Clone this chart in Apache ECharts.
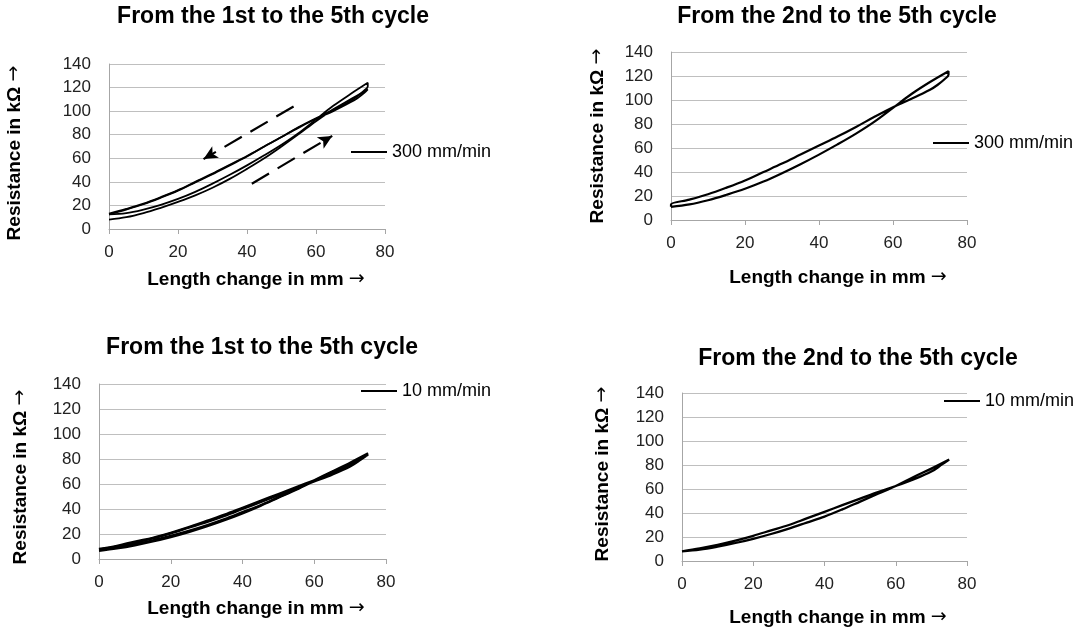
<!DOCTYPE html>
<html>
<head>
<meta charset="utf-8">
<script src="https://cdn.jsdelivr.net/npm/echarts@6/dist/echarts.min.js"></script>
<style>
  html, body { margin: 0; padding: 0; background: #fff; }
  #panel { width: 1084px; height: 630px; }
</style>
</head>
<body>
<div id="panel"></div>
<script>
  const titles = ['From the 1st to the 5th cycle', 'From the 2nd to the 5th cycle', 'From the 1st to the 5th cycle', 'From the 2nd to the 5th cycle'];
  const speeds = ['300 mm/min', '300 mm/min', '10 mm/min', '10 mm/min'];
  const xName = 'Length change in mm';
  const yName = 'Resistance in kΩ';
  const xTicks = [0, 20, 40, 60, 80];
  const yTicks = [0, 20, 40, 60, 80, 100, 120, 140];

  // [length change mm, resistance kΩ] – loading branch, then unloading branch
  const fastCycle1 = [[0, 8], [5, 10], [10, 13.5], [15, 18], [20, 23], [25, 28.5], [30, 35], [35, 42.5], [40, 51], [45, 60], [50, 70], [55, 80.5], [60, 91.5], [65, 101.5], [70, 110], [75, 118.5],
    [74, 115.5], [72, 111], [70, 107.5], [65, 100], [60, 93.5], [55, 86], [50, 78], [45, 70], [40, 61.5], [35, 54], [30, 46.5], [25, 39.5], [20, 32.5], [15, 26.5], [10, 21], [5, 16.5], [0, 12.5]];
  const fastCycles15 = [[0, 12.5], [5, 13.5], [10, 16.5], [15, 20.5], [20, 25.5], [25, 31.5], [30, 38.5], [35, 46], [40, 54], [45, 62.5], [50, 71.5], [55, 81.5], [60, 93], [65, 104.5], [70, 114.5], [75, 124],
    [75, 121], [74, 117.5], [72, 112.5], [70, 108.5], [67, 104], [65, 101], [60, 94], [55, 86.5], [50, 78], [45, 70], [40, 62], [35, 54.5], [30, 47], [25, 40], [20, 33], [15, 27], [10, 21.5], [5, 17], [0, 13]];
  const fastCycles25 = [[0, 11], [5, 13], [10, 16.5], [15, 21], [20, 26], [25, 32], [30, 39], [35, 46.5], [40, 54.5], [45, 63], [50, 72], [55, 82], [60, 93.5], [65, 105], [70, 115], [75, 124],
    [75, 121], [74, 117.5], [72, 112.5], [70, 108.5], [67, 104], [65, 101], [60, 94], [55, 86], [50, 77.5], [45, 69.5], [40, 62], [35, 54.5], [30, 47], [25, 40], [20, 33], [15, 27], [10, 21.5], [5, 17], [0, 13], [0, 11]];
  const slowCycle1 = [[0, 6.5], [5, 8.5], [10, 11], [15, 14], [20, 17.5], [25, 21.5], [30, 26], [35, 31], [40, 36.5], [45, 42.5], [50, 49], [55, 55.5], [60, 62.5], [65, 69.5], [70, 76], [75, 83.5],
    [73, 79.5], [70, 74], [65, 67.5], [60, 62], [55, 56.5], [50, 51], [45, 45.5], [40, 40], [35, 34.5], [30, 29.5], [25, 25], [20, 20.5], [15, 16.5], [10, 13], [5, 10], [0, 7.5]];
  const slowCycles15 = [[0, 7.5], [5, 9.5], [10, 12], [15, 15], [20, 18.5], [25, 22.5], [30, 27], [35, 32], [40, 37.5], [45, 43], [50, 49.5], [55, 56], [60, 63], [65, 70], [70, 77], [75, 84.5],
    [73, 80.5], [70, 75], [65, 68.5], [60, 63], [55, 57.5], [50, 52], [45, 46.5], [40, 41], [35, 35.5], [30, 30.5], [25, 25.5], [20, 21], [15, 17], [10, 14], [5, 10.5], [0, 8]];
  const slowCycles25 = [[0, 8], [5, 9.5], [10, 12], [15, 15], [20, 18.5], [25, 22.5], [30, 27], [35, 32], [40, 37], [45, 43], [50, 49.5], [55, 56], [60, 62.5], [65, 70], [70, 77], [75, 84.5],
    [73, 80.5], [70, 74.5], [65, 68], [60, 62.5], [55, 57.5], [50, 52], [45, 46.5], [40, 41], [35, 35.5], [30, 30], [25, 25.5], [20, 21], [15, 17], [10, 13.5], [5, 10.5], [0, 8]];

  // direction arrows drawn on the first panel
  const arrowUnload = [[53.5, 104], [27.4, 59.3]];
  const arrowLoad = [[41.4, 38.4], [64.7, 79]];

  const loops = [[fastCycle1, fastCycles15], [fastCycles25], [slowCycle1, slowCycles15], [slowCycles25]];

  const layout = [
    { grid: { left: 109, top: 64, width: 276, height: 165 }, title: [273, 5], legend: [351, 143], xGap: 41, xPad: [0, 0, 0, 18], yGap: 85, yPad: [0, 13, 0, 0] },
    { grid: { left: 671, top: 52, width: 296, height: 168 }, title: [837, 5], legend: [933, 134], xGap: 48, xPad: [0, 0, 0, 38], yGap: 64, yPad: [0, 0, 0, 0] },
    { grid: { left: 99, top: 384, width: 287, height: 175 }, title: [262, 336], legend: [361, 382], xGap: 40, xPad: [0, 0, 0, 27], yGap: 69, yPad: [0, 11, 0, 0] },
    { grid: { left: 682, top: 393, width: 285, height: 168 }, title: [858, 347], legend: [944, 392], xGap: 47, xPad: [0, 0, 0, 27], yGap: 70, yPad: [0, 0, 0, 6] }
  ];

  const font = 'Liberation Sans, Arial, sans-serif';
  const nameRich = {
    t: { fontFamily: font, fontSize: 19, fontWeight: 'bold', color: '#000' },
    a: { fontFamily: 'DejaVu Sans', fontSize: 19, color: '#000' }
  };
  const panel = echarts.init(document.getElementById('panel'));

  let series = [];
  loops.forEach((group, i) => {
    group.forEach(loop => {
      series.push({
        name: speeds[i],
        type: 'line',
        xAxisIndex: i,
        yAxisIndex: i,
        data: loop,
        symbol: 'none',
        smooth: 0.35,
        silent: true,
        itemStyle: { color: '#000' },
        lineStyle: { color: '#000', width: i < 2 ? (group.length > 1 ? 1.8 : 2.2) : 2.3 }
      });
    });
  });

  // dashed arrows showing loading / unloading direction
  series[0].markLine = {
    silent: true,
    symbol: ['none', 'arrow'],
    symbolSize: [10, 14],
    label: { show: false },
    lineStyle: { color: '#000', width: 2.2, type: [20, 10] },
    data: [
      [{ coord: arrowUnload[0] }, { coord: arrowUnload[1] }],
      [{ coord: arrowLoad[0] }, { coord: arrowLoad[1], lineStyle: { curveness: 0.15 } }]
    ]
  };

  const option = {
    animation: false,
    backgroundColor: '#fff',
    title: layout.map((l, i) => ({
      text: titles[i],
      left: l.title[0],
      top: l.title[1],
      padding: 0,
      textAlign: 'center',
      textStyle: { fontFamily: font, fontSize: 23, fontWeight: 'bold', color: '#000' }
    })),
    legend: layout.map((l, i) => ({
      data: [speeds[i]],
      left: l.legend[0],
      top: l.legend[1],
      padding: 0,
      icon: 'rect',
      itemWidth: 36,
      itemHeight: 2,
      selectedMode: false,
      itemStyle: { color: '#000' },
      textStyle: { fontFamily: font, fontSize: 18, color: '#000' }
    })),
    grid: layout.map(l => Object.assign({ containLabel: false }, l.grid)),
    xAxis: layout.map((l, i) => ({
      type: 'value',
      gridIndex: i,
      min: xTicks[0],
      max: xTicks[xTicks.length - 1],
      interval: xTicks[1] - xTicks[0],
      name: '{t|' + xName + ' }{a|→}',
      nameLocation: 'middle',
      nameGap: l.xGap,
      nameTextStyle: { padding: l.xPad, rich: nameRich },
      axisLine: { show: true, lineStyle: { color: '#a6a6a6', width: 1 } },
      axisTick: { show: true, length: 5, lineStyle: { color: '#a6a6a6' } },
      axisLabel: { margin: 15, fontFamily: font, fontSize: 17, color: '#222' },
      splitLine: { show: false }
    })),
    yAxis: layout.map((l, i) => ({
      type: 'value',
      gridIndex: i,
      min: yTicks[0],
      max: yTicks[yTicks.length - 1],
      interval: yTicks[1] - yTicks[0],
      name: '{t|' + yName + ' }{a|→}',
      nameLocation: 'middle',
      nameGap: l.yGap,
      nameTextStyle: { padding: l.yPad, rich: nameRich },
      axisLine: { show: true, lineStyle: { color: '#a6a6a6', width: 1 } },
      axisTick: { show: false },
      axisLabel: { margin: 18, fontFamily: font, fontSize: 17, color: '#222' },
      splitLine: { show: true, lineStyle: { color: '#bfbfbf', width: 1 } }
    })),
    series: series
  };

  panel.setOption(option, true);
</script>
</body>
</html>
